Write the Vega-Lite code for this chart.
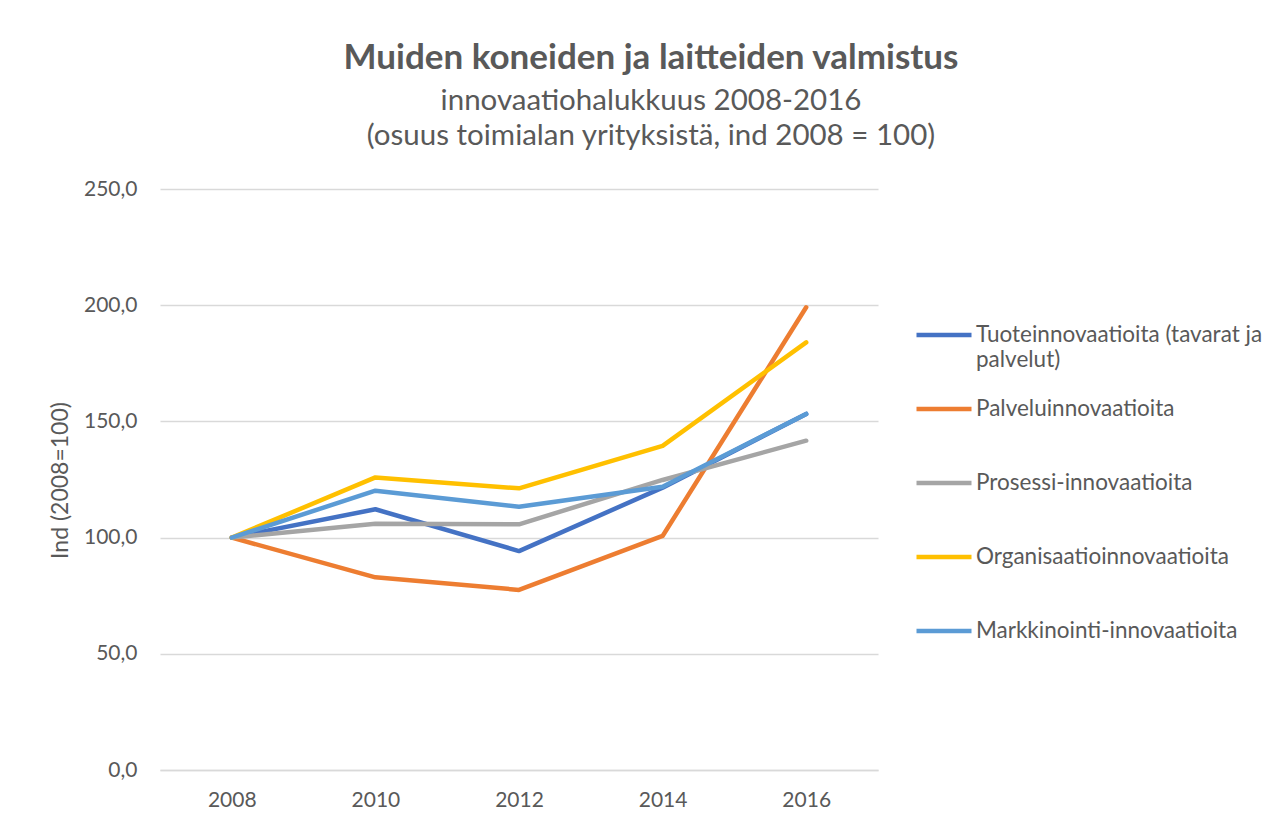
{
  "$schema": "https://vega.github.io/schema/vega-lite/v6.json",
  "autosize": "none",
  "width": 718,
  "height": 581,
  "padding": {"left": 160, "top": 189, "right": 404, "bottom": 56},
  "background": "white",
  "title": {
    "text": "Muiden koneiden ja laitteiden valmistus",
    "subtitle": ["innovaatiohalukkuus 2008-2016", "(osuus toimialan yrityksistä, ind 2008 = 100)"],
    "anchor": "middle",
    "frame": "group",
    "dx": 132,
    "offset": 28,
    "font": "Lato",
    "fontSize": 35,
    "fontWeight": "bold",
    "color": "#595959",
    "subtitleFont": "Lato",
    "subtitleFontSize": 29.5,
    "subtitleColor": "#595959",
    "subtitleLineHeight": 35,
    "subtitlePadding": 11
  },
  "data": {
    "values": [
      {"year": "2008", "series": "Tuoteinnovaatioita (tavarat ja palvelut)", "value": 100},
      {"year": "2010", "series": "Tuoteinnovaatioita (tavarat ja palvelut)", "value": 112.2},
      {"year": "2012", "series": "Tuoteinnovaatioita (tavarat ja palvelut)", "value": 94.2},
      {"year": "2014", "series": "Tuoteinnovaatioita (tavarat ja palvelut)", "value": 121.5},
      {"year": "2016", "series": "Tuoteinnovaatioita (tavarat ja palvelut)", "value": 153.2},
      {"year": "2008", "series": "Palveluinnovaatioita", "value": 100},
      {"year": "2010", "series": "Palveluinnovaatioita", "value": 82.9},
      {"year": "2012", "series": "Palveluinnovaatioita", "value": 77.5},
      {"year": "2014", "series": "Palveluinnovaatioita", "value": 100.7},
      {"year": "2016", "series": "Palveluinnovaatioita", "value": 199.1},
      {"year": "2008", "series": "Prosessi-innovaatioita", "value": 100},
      {"year": "2010", "series": "Prosessi-innovaatioita", "value": 106.0},
      {"year": "2012", "series": "Prosessi-innovaatioita", "value": 105.7},
      {"year": "2014", "series": "Prosessi-innovaatioita", "value": 124.8},
      {"year": "2016", "series": "Prosessi-innovaatioita", "value": 141.7},
      {"year": "2008", "series": "Organisaatioinnovaatioita", "value": 100},
      {"year": "2010", "series": "Organisaatioinnovaatioita", "value": 125.9},
      {"year": "2012", "series": "Organisaatioinnovaatioita", "value": 121.2},
      {"year": "2014", "series": "Organisaatioinnovaatioita", "value": 139.5},
      {"year": "2016", "series": "Organisaatioinnovaatioita", "value": 184.0},
      {"year": "2008", "series": "Markkinointi-innovaatioita", "value": 100},
      {"year": "2010", "series": "Markkinointi-innovaatioita", "value": 120.2},
      {"year": "2012", "series": "Markkinointi-innovaatioita", "value": 113.3},
      {"year": "2014", "series": "Markkinointi-innovaatioita", "value": 121.9},
      {"year": "2016", "series": "Markkinointi-innovaatioita", "value": 153.2}
    ]
  },
  "mark": {"type": "line", "strokeWidth": 4.5, "strokeCap": "round", "strokeJoin": "round"},
  "encoding": {
    "x": {
      "field": "year",
      "type": "ordinal",
      "scale": {"type": "point", "padding": 0.5},
      "axis": {
        "title": null,
        "labelAngle": 0,
        "labelFont": "Lato",
        "labelFontSize": 21,
        "labelColor": "#595959",
        "labelPadding": 19,
        "ticks": false,
        "domainColor": "#D9D9D9",
        "domainWidth": 1.5,
        "grid": false
      }
    },
    "y": {
      "field": "value",
      "type": "quantitative",
      "scale": {"domain": [0, 250], "nice": false},
      "axis": {
        "values": [0, 50, 100, 150, 200, 250],
        "labelExpr": "replace(format(datum.value, '.1f'), '.', ',')",
        "title": "Ind (2008=100)",
        "titleFont": "Lato",
        "titleFontSize": 23,
        "titleFontWeight": "normal",
        "titleColor": "#595959",
        "titleX": -100,
        "titleY": 291,
        "titleAngle": -90,
        "titleAlign": "center",
        "titleBaseline": "middle",
        "labelFont": "Lato",
        "labelFontSize": 21,
        "labelColor": "#595959",
        "labelPadding": 23,
        "ticks": false,
        "domain": false,
        "grid": true,
        "gridColor": "#D9D9D9",
        "gridWidth": 1.5
      }
    },
    "color": {
      "field": "series",
      "type": "nominal",
      "sort": ["Tuoteinnovaatioita (tavarat ja palvelut)", "Palveluinnovaatioita", "Prosessi-innovaatioita", "Organisaatioinnovaatioita", "Markkinointi-innovaatioita"],
      "scale": {
        "domain": ["Tuoteinnovaatioita (tavarat ja palvelut)", "Palveluinnovaatioita", "Prosessi-innovaatioita", "Organisaatioinnovaatioita", "Markkinointi-innovaatioita"],
        "range": ["#4472C4", "#ED7D31", "#A5A5A5", "#FFC000", "#5B9BD5"]
      },
      "legend": {
        "title": null,
        "orient": "none",
        "legendX": 754,
        "legendY": 116,
        "symbolType": "stroke",
        "symbolSize": 3025,
        "symbolStrokeWidth": 4.5,
        "labelFont": "Lato",
        "labelFontSize": 22.5,
        "labelColor": "#595959",
        "labelOffset": 2,
        "labelLimit": 400,
        "labelBaseline": "middle",
        "rowPadding": 8,
        "labelExpr": "datum.label == 'Tuoteinnovaatioita (tavarat ja palvelut)' ? ['Tuoteinnovaatioita (tavarat ja', 'palvelut)'] : [datum.label, '']"
      }
    },
    "order": {"field": "year"}
  },
  "config": {"view": {"stroke": null}}
}
